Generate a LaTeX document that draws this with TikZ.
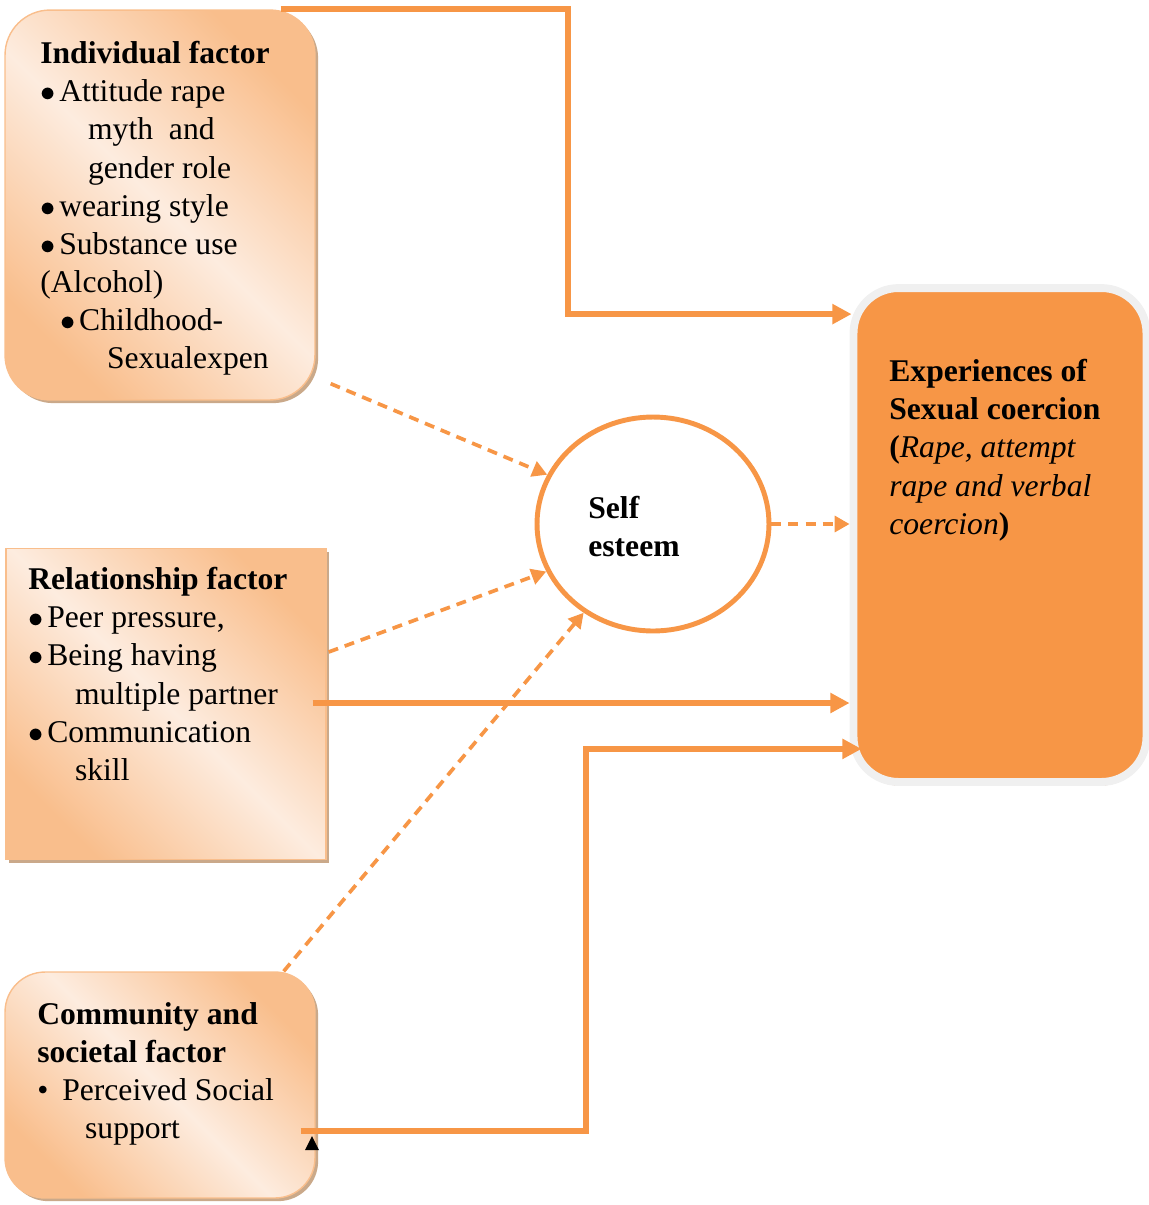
\documentclass[tikz,border=0pt]{standalone}
\usepackage{fontspec}
\setmainfont{Liberation Serif}
\usetikzlibrary{shapes.geometric,shadows,arrows.meta,calc}
\definecolor{cosorange}{RGB}{247,150,70}
\definecolor{facdark}{RGB}{249,190,140}
\definecolor{faclight}{RGB}{253,236,223}
\definecolor{shadowtan}{RGB}{196,160,125}
\newcommand{\bul}{\makebox[10.8pt][l]{$\bullet$}}

\begin{document}
\begin{tikzpicture}[x=0.02cm,y=-0.02cm,font=\fontsize{18}{21.7}\selectfont]
        \tikzstyle{factor}=[draw=facdark,line width=0.8pt,top color=facdark,bottom color=facdark,middle color=faclight,shading angle=-45,drop shadow={shadow xshift=1.8pt,shadow yshift=-1.8pt,fill=shadowtan,opacity=0.9}]
        \tikzstyle{txt}=[anchor=north west,align=left,inner sep=0pt]
        \tikzstyle{link}=[draw=cosorange,line width=3.3pt,-{Triangle[length=11pt,width=11pt]}]
        \tikzstyle{dlink}=[draw=cosorange,line width=2.1pt,dash pattern=on 5.7pt off 4pt,-{Triangle[length=8.5pt,width=9pt]}]
        \useasboundingbox (0,0) rectangle (1149,1205);
        % factor boxes
        \node[factor,rounded corners=0.9cm,minimum width=6.2cm,minimum height=7.8cm] (ind) at (160,205) {};
        \node[factor,minimum width=6.4cm,minimum height=6.22cm] (rel) at (166,704) {};
        \node[factor,rounded corners=0.8cm,minimum width=6.2cm,minimum height=4.52cm] (com) at (160,1085) {};
        \node[draw=black!6,line width=4.5pt,fill=cosorange,rounded corners=0.9cm,minimum width=5.86cm,minimum height=9.88cm,drop shadow={shadow xshift=0pt,shadow yshift=-2pt,fill=shadowtan,opacity=0.9}] (exp) at (1000,535) {};
        \node[ellipse,draw=cosorange,line width=2.8pt,fill=white,minimum width=4.64cm,minimum height=4.28cm,inner sep=0pt] (self) at (653,524) {};
        % texts
        \node[txt] (indtxt) at (40,41) {\textbf{Individual factor}\\ \bul Attitude rape\\ \hspace*{27.2pt}myth\ \ and\\ \hspace*{27.2pt}gender role\\ \bul wearing style\\ \bul Substance use\\ (Alcohol)\\ \hspace*{11.3pt}\bul Childhood-\\ \hspace*{38pt}Sexualexpen};
        \node[txt] (reltxt) at (28,567) {\textbf{Relationship factor}\\ \bul Peer pressure,\\ \bul Being having\\ \hspace*{26.6pt}multiple partner\\ \bul Communication\\ \hspace*{26.6pt}skill};
        \node[txt] (comtxt) at (37,1002) {\textbf{Community and}\\ \textbf{societal factor}\\ \makebox[14.2pt][l]{\textbullet}Perceived Social\\ \hspace*{27.2pt}support};
        \node[txt] (selftxt) at (588,496) {\textbf{Self}\\ \textbf{esteem}};
        \node[txt] (exptxt) at (889,359) {\textbf{Experiences of}\\ \textbf{Sexual coercion}\\ \textbf{(}\textit{Rape, attempt}\\ \textit{rape and verbal}\\ \textit{coercion}\textbf{)}};
        % connectors
        \draw[link] ($(ind.north east)+(-35,0)$) -- ++(287,0) |- ($(exp.north west)+(2,30)$);
        \draw[dlink] ($(ind.south east)+(15,-17)$) -- (self.155);
        \draw[dlink] ($(rel.east)+(2,-52)$) -- (self.204);
        \draw[dlink] ($(com.north east)+(-32,0)$) -- (self.232);
        \draw[dlink] (self.east) -- (self.east -| exp.west);
        \draw[link] ($(rel.east)+(-14,-1)$) coordinate (relout) -- (relout -| exp.west);
        \draw[link] ($(com.east)+(-15,46)$) -- ++(285,0) |- ($(exp.south west)+(12,-37)$);
        \fill (305,1150) -- (312,1136) -- (319,1150) -- cycle;
\end{tikzpicture}
\end{document}
